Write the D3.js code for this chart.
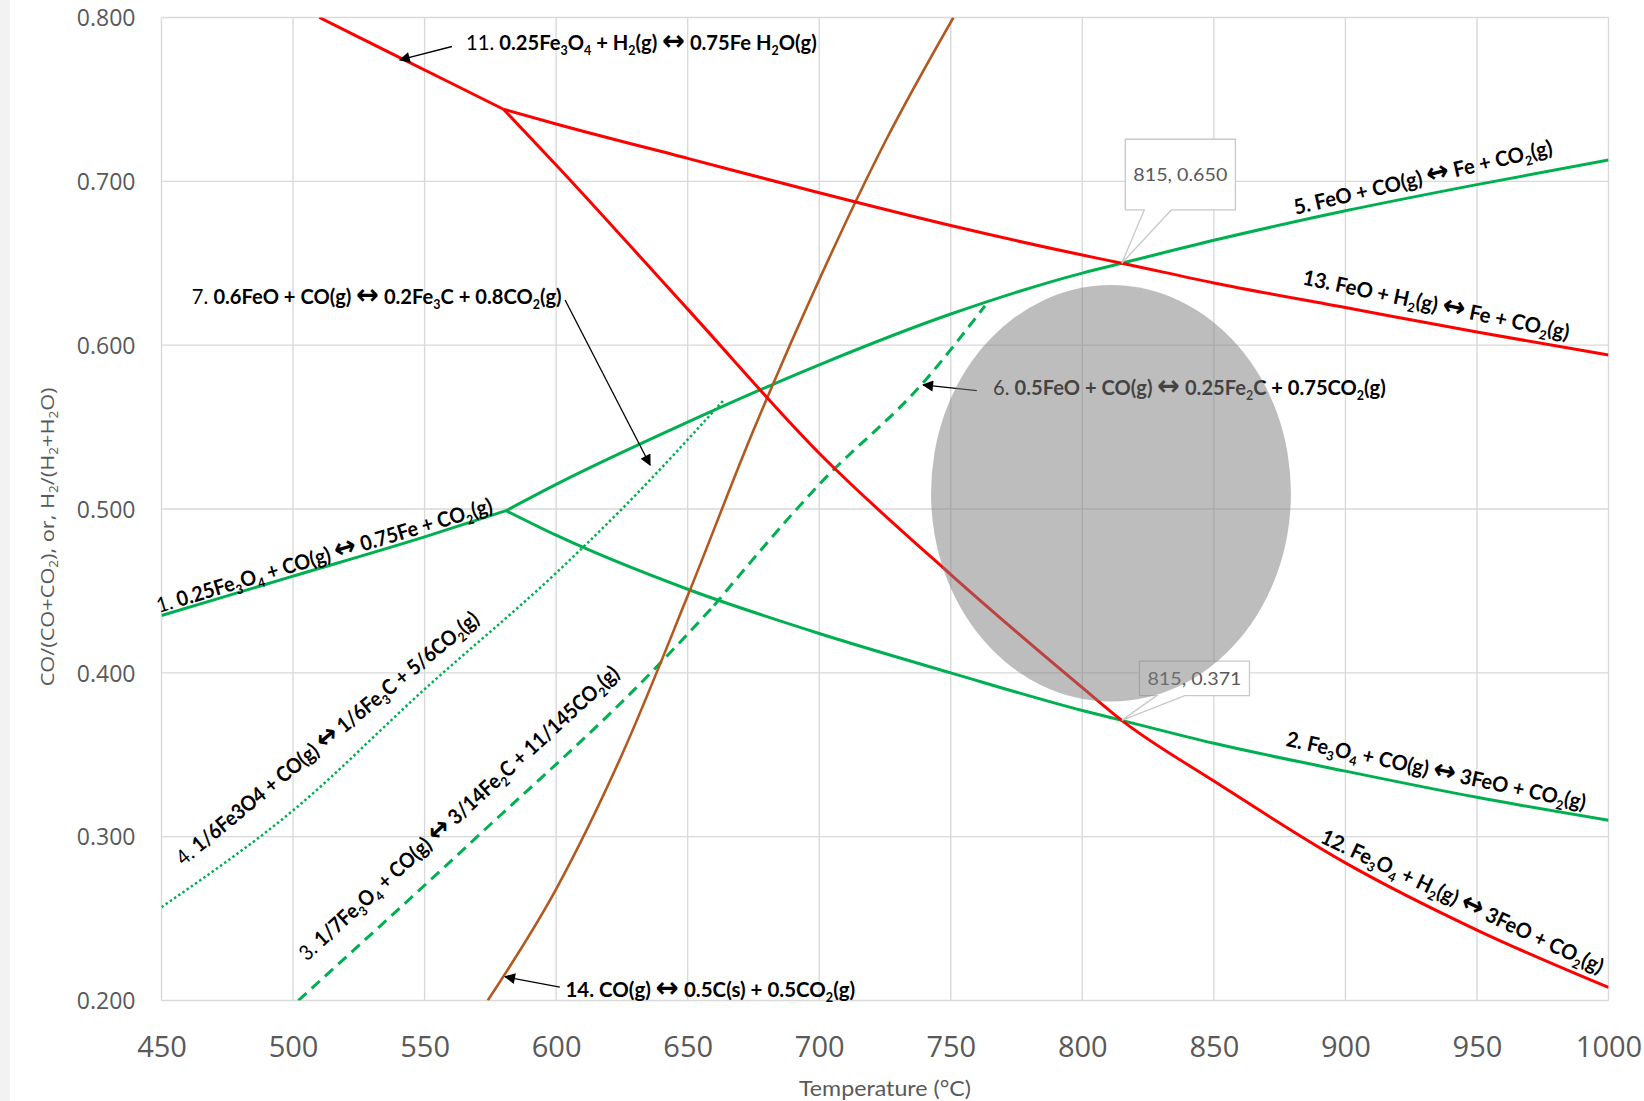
<!DOCTYPE html>
<html>
<head>
<meta charset="utf-8">
<script src="https://cdn.jsdelivr.net/npm/d3@7"></script>
<style>
  html, body { margin: 0; padding: 0; background: #fff; }
  svg { display: block; }
</style>
</head>
<body>
<svg id="chart" width="1644" height="1101"></svg>
<script>
// ---- Equilibrium curves: temperature (°C) vs. gas ratio CO/(CO+CO2) or H2/(H2+H2O) ----
const rxn1T  = [450, 500, 550, 581];
const rxn1V  = [0.435, 0.459, 0.483, 0.499];
const rxn2T  = [581, 600, 650, 700, 750, 800, 815, 850, 900, 950, 1000];
const rxn2V  = [0.499, 0.484, 0.451, 0.424, 0.400, 0.377, 0.371, 0.357, 0.340, 0.324, 0.310];
const rxn3T  = [502, 570, 636, 660];
const rxn3V  = [0.200, 0.300, 0.400, 0.441];
const rxn4T  = [450, 500, 550, 600, 625, 664];
const rxn4V  = [0.257, 0.316, 0.390, 0.461, 0.500, 0.567];
const rxn5T  = [581, 600, 650, 700, 750, 800, 815, 850, 900, 950, 1000];
const rxn5V  = [0.499, 0.515, 0.553, 0.588, 0.619, 0.644, 0.650, 0.664, 0.682, 0.698, 0.713];
const rxn6T  = [660, 700, 740, 763];
const rxn6V  = [0.441, 0.515, 0.578, 0.624];
const rxn11T = [510, 540, 580];
const rxn11V = [0.800, 0.776, 0.744];
const rxn12T = [580, 600, 650, 700, 750, 800, 815, 850, 900, 950, 1000];
const rxn12V = [0.744, 0.710, 0.622, 0.534, 0.460, 0.391, 0.371, 0.334, 0.284, 0.243, 0.208];
const rxn13T = [580, 600, 650, 700, 750, 800, 815, 850, 900, 950, 1000];
const rxn13V = [0.744, 0.735, 0.714, 0.693, 0.673, 0.655, 0.650, 0.638, 0.623, 0.608, 0.594];
const rxn14T = [574, 600, 625, 650, 675, 700, 725, 751];
const rxn14V = [0.200, 0.268, 0.350, 0.447, 0.548, 0.640, 0.724, 0.800];

// Axis ticks
const xTicks = [450, 500, 550, 600, 650, 700, 750, 800, 850, 900, 950, 1000];
const yTicks = [0.2, 0.3, 0.4, 0.5, 0.6, 0.7, 0.8];

// Reaction labels ("_" marks a subscript character)
const labelTexts = {
  r1:  '1. 0.25Fe_3O_4 + CO(g) ↔ 0.75Fe + CO_2(g)',
  r2:  '2. Fe_3O_4 + CO(g) ↔ 3FeO + CO_2(g)',
  r3:  '3. 1/7Fe_3O_4 + CO(g) ↔ 3/14Fe_2C + 11/145CO_2(g)',
  r4:  '4. 1/6Fe3O4 + CO(g) ↔ 1/6Fe_3C + 5/6CO_2(g)',
  r5:  '5. FeO + CO(g) ↔ Fe + CO_2(g)',
  r6:  '6. 0.5FeO + CO(g) ↔ 0.25Fe_2C + 0.75CO_2(g)',
  r7:  '7. 0.6FeO + CO(g) ↔ 0.2Fe_3C + 0.8CO_2(g)',
  r11: '11. 0.25Fe_3O_4 + H_2(g) ↔ 0.75Fe H_2O(g)',
  r12: '12. Fe_3O_4 + H_2(g) ↔ 3FeO + CO_2(g)',
  r13: '13. FeO + H_2(g) ↔ Fe + CO_2(g)',
  r14: '14. CO(g) ↔ 0.5C(s) + 0.5CO_2(g)'
};

// Triple points called out on the chart
const calloutT = 815;

// ---------------------------------------------------------------------------
const GREEN = '#00b050', RED = '#ff0000', BROWN = '#b3581f';
const GRID = '#d9d9d9', AXIS_TEXT = '#595959';

const svg = d3.select('#chart');
const x = d3.scaleLinear().domain([450, 1000]).range([161.5, 1608.5]);
const y = d3.scaleLinear().domain([0.2, 0.8]).range([1000.5, 17.5]);

// light frame strip at the very left edge
svg.append('rect').attr('x', 0).attr('y', 0).attr('width', 10).attr('height', 1101).attr('fill', '#f2f2f2');

const defs = svg.append('defs');
defs.append('clipPath').attr('id', 'plot-clip').append('rect')
  .attr('x', x(450)).attr('y', y(0.8))
  .attr('width', x(1000) - x(450)).attr('height', y(0.2) - y(0.8));
defs.append('marker')
  .attr('id', 'tip').attr('viewBox', '0 0 10 10')
  .attr('refX', 9).attr('refY', 5)
  .attr('markerWidth', 15).attr('markerHeight', 11)
  .attr('markerUnits', 'userSpaceOnUse').attr('orient', 'auto')
  .append('path').attr('d', 'M0,0L10,5L0,10Z').attr('fill', '#000');

// gridlines
const grid = svg.append('g');
grid.selectAll('line.v').data(xTicks).join('line')
  .attr('x1', d => x(d)).attr('x2', d => x(d))
  .attr('y1', y(0.8)).attr('y2', y(0.2))
  .attr('stroke', GRID).attr('stroke-width', 1.4);
grid.selectAll('line.h').data(yTicks).join('line')
  .attr('x1', x(450)).attr('x2', x(1000))
  .attr('y1', d => y(d)).attr('y2', d => y(d))
  .attr('stroke', GRID).attr('stroke-width', 1.4);

// axes (labels only, no domain lines)
const xAxis = d3.axisBottom(x).tickValues(xTicks).tickSize(0).tickPadding(0).tickFormat(d3.format('d'));
const gx = svg.append('g').attr('transform', `translate(0,${y(0.2)})`).call(xAxis);
gx.select('.domain').remove();
gx.selectAll('text')
  .attr('y', 46).attr('dy', '0.36em')
  .attr('font-family', "'Open Sans', sans-serif").attr('font-size', 29).attr('fill', AXIS_TEXT);

const yAxis = d3.axisLeft(y).tickValues(yTicks).tickSize(0).tickPadding(0).tickFormat(d3.format('.3f'));
const gy = svg.append('g').attr('transform', `translate(${x(450)},0)`).call(yAxis);
gy.select('.domain').remove();
gy.selectAll('text')
  .attr('x', -26).attr('dy', '0.36em')
  .attr('font-family', "'Open Sans', sans-serif").attr('font-size', 23).attr('fill', AXIS_TEXT);

// ---- series ----
const series = [
  { T: rxn1T,  V: rxn1V,  color: GREEN, w: 3 },
  { T: rxn2T,  V: rxn2V,  color: GREEN, w: 3 },
  { T: rxn5T,  V: rxn5V,  color: GREEN, w: 3 },
  { T: rxn4T,  V: rxn4V,  color: GREEN, w: 2.5, dash: '2.5,2.6' },
  { T: rxn3T,  V: rxn3V,  color: GREEN, w: 3, dash: '11,7' },
  { T: rxn6T,  V: rxn6V,  color: GREEN, w: 3, dash: '11,7' },
  { T: rxn14T, V: rxn14V, color: BROWN, w: 2.6 },
  { T: rxn11T, V: rxn11V, color: RED,   w: 3 },
  { T: rxn13T, V: rxn13V, color: RED,   w: 3 },
  { T: rxn12T, V: rxn12V, color: RED,   w: 3 }
];
const line = d3.line().x(d => x(d[0])).y(d => y(d[1])).curve(d3.curveMonotoneX);
const plot = svg.append('g').attr('clip-path', 'url(#plot-clip)');
series.forEach(s => {
  plot.append('path')
    .attr('d', line(d3.zip(s.T, s.V)))
    .attr('fill', 'none')
    .attr('stroke', s.color)
    .attr('stroke-width', s.w)
    .attr('stroke-dasharray', s.dash || null)
    .attr('stroke-linejoin', 'round');
});

// ---- rich text helpers ----
const LABEL_FONT = "Lato, 'DejaVu Sans', sans-serif";

function appendFormula(t, str, size, weight) {
  let buf = '', low = false;
  const shift = size * 0.24;
  const flush = () => {
    if (!buf) return;
    const ts = t.append('tspan').attr('font-weight', weight).text(buf);
    if (low) { ts.attr('dy', -shift); low = false; }
    buf = '';
  };
  for (let i = 0; i < str.length; i++) {
    const ch = str[i];
    if (ch === '_') {
      flush();
      const ts = t.append('tspan').attr('font-weight', weight)
        .attr('font-size', size * 0.62).text(str[i + 1]);
      if (!low) { ts.attr('dy', shift); low = true; }
      i++;
    } else if (ch === '↔') {
      flush();
      t.append('tspan')
        .attr('font-family', "'DejaVu Sans', sans-serif")
        .attr('font-weight', 700)
        .attr('font-size', size * 1.35)
        .text(ch);
    } else {
      buf += ch;
    }
  }
  flush();
}

function reactionLabel(str, cx, cy, angle, width, boldPrefix, size) {
  const g = svg.append('g');
  const sp = str.indexOf(' ');
  const t = g.append('text')
    .attr('text-anchor', 'middle')
    .attr('y', size * 0.34)
    .attr('font-family', LABEL_FONT)
    .attr('font-size', size)
    .attr('fill', '#000');
  t.append('tspan').attr('font-weight', boldPrefix ? 700 : 400).text(str.slice(0, sp + 1));
  appendFormula(t, str.slice(sp + 1), size, 700);
  const w = t.node().getBBox().width;
  g.attr('transform', `translate(${cx},${cy}) rotate(${angle}) scale(${width / w},1)`);
  return g;
}

function arrow(from, to) {
  svg.append('line')
    .attr('x1', x(from[0])).attr('y1', y(from[1]))
    .attr('x2', x(to[0])).attr('y2', y(to[1]))
    .attr('stroke', '#000').attr('stroke-width', 1.3)
    .attr('marker-end', 'url(#tip)');
}

// ---- labels placed along the curves ----
const lineLabels = [
  { key: 'r1',  at: [511.9, 0.4715], angle: -16.8, width: 350, bold: false },
  { key: 'r4',  at: [513.1, 0.3600], angle: -39.5, width: 385, bold: false },
  { key: 'r3',  at: [563.1, 0.3143], angle: -42.4, width: 425, bold: false },
  { key: 'r5',  at: [929.5, 0.7023], angle: -13.2, width: 265, bold: true },
  { key: 'r13', at: [934.5, 0.6245], angle: 11.8,  width: 272, bold: true },
  { key: 'r2',  at: [934.5, 0.3402], angle: 12.1,  width: 306, bold: true },
  { key: 'r12', at: [944.4, 0.2603], angle: 25.3,  width: 310, bold: true }
];
lineLabels.forEach(l => reactionLabel(labelTexts[l.key], x(l.at[0]), y(l.at[1]), l.angle, l.width, l.bold, 21));

// ---- labels with leader arrows ----
const arrowLabels = [
  { key: 'r11', at: [632.4, 0.7844], width: 351, bold: false, from: [560.4, 0.7823], to: [540.6, 0.7741] },
  { key: 'r7',  at: [531.8, 0.6296], width: 370, bold: false, from: [603.4, 0.6276], to: [635.7, 0.5269] },
  { key: 'r6',  at: [840.7, 0.5739], width: 393, bold: false, from: [759.9, 0.5722], to: [739.5, 0.5757] },
  { key: 'r14', at: [658.6, 0.2068], width: 290, bold: true,  from: [601.4, 0.2081], to: [580.6, 0.2145] }
];
arrowLabels.forEach(l => {
  reactionLabel(labelTexts[l.key], x(l.at[0]), y(l.at[1]), 0, l.width, l.bold, 21);
  arrow(l.from, l.to);
});

// ---- data callouts at 815 °C ----
function calloutPath(px, py, box, base) {
  const x0 = px + box[0], x1 = px + box[2], y0 = py + box[1], y1 = py + box[3];
  return `M${x0},${y0}H${x1}V${y1}H${px + base[1]}L${px},${py}L${px + base[0]},${y1}H${x0}Z`;
}
const fmt3 = d3.format('.3f');
const callouts = [
  { T: calloutT, V: rxn5V[rxn5T.indexOf(calloutT)], box: [3.5, -124, 113.6, -53.3], base: [22.5, 49.5] },
  { T: calloutT, V: rxn2V[rxn2T.indexOf(calloutT)], box: [17.7, -59.3, 127.7, -24.8], base: [35, 63] }
];
callouts.forEach(c => {
  const px = x(c.T), py = y(c.V);
  svg.append('path')
    .attr('d', calloutPath(px, py, c.box, c.base))
    .attr('fill', '#fff').attr('stroke', '#c8c8c8').attr('stroke-width', 1.3);
  svg.append('text')
    .attr('x', px + (c.box[0] + c.box[2]) / 2)
    .attr('y', py + (c.box[1] + c.box[3]) / 2)
    .attr('dy', '0.35em')
    .attr('text-anchor', 'middle')
    .attr('font-family', LABEL_FONT).attr('font-size', 18)
    .attr('fill', AXIS_TEXT)
    .attr('textLength', 94).attr('lengthAdjust', 'spacingAndGlyphs')
    .text(`${c.T}, ${fmt3(c.V)}`);
});

// ---- shaded operating window around the 815 °C triple points ----
const windowCentre = [810.9, 0.5096];
const windowHalf = [68.4, 0.1271];
svg.append('ellipse')
  .attr('cx', x(windowCentre[0]))
  .attr('cy', y(windowCentre[1]))
  .attr('rx', x(windowCentre[0] + windowHalf[0]) - x(windowCentre[0]))
  .attr('ry', y(windowCentre[1] - windowHalf[1]) - y(windowCentre[1]))
  .attr('fill', 'rgb(128,128,128)').attr('fill-opacity', 0.52);

// ---- axis titles ----
svg.append('text')
  .attr('x', x(725)).attr('y', 1089).attr('dy', '0.35em')
  .attr('text-anchor', 'middle')
  .attr('font-family', LABEL_FONT).attr('font-size', 21)
  .attr('fill', AXIS_TEXT)
  .attr('textLength', 172).attr('lengthAdjust', 'spacingAndGlyphs')
  .text('Temperature (°C)');

const ytG = svg.append('g');
const yt = ytG.append('text')
  .attr('text-anchor', 'middle').attr('y', 7)
  .attr('font-family', "'Open Sans', sans-serif").attr('font-size', 19)
  .attr('fill', AXIS_TEXT);
appendFormula(yt, 'CO/(CO+CO_2), or, H_2/(H_2+H_2O)', 19, 400);
const ytw = yt.node().getBBox().width;
ytG.attr('transform', `translate(46.5,${(y(0.5) + y(0.4)) / 2 - 54}) rotate(-90) scale(${299 / ytw},1)`);
</script>
</body>
</html>
